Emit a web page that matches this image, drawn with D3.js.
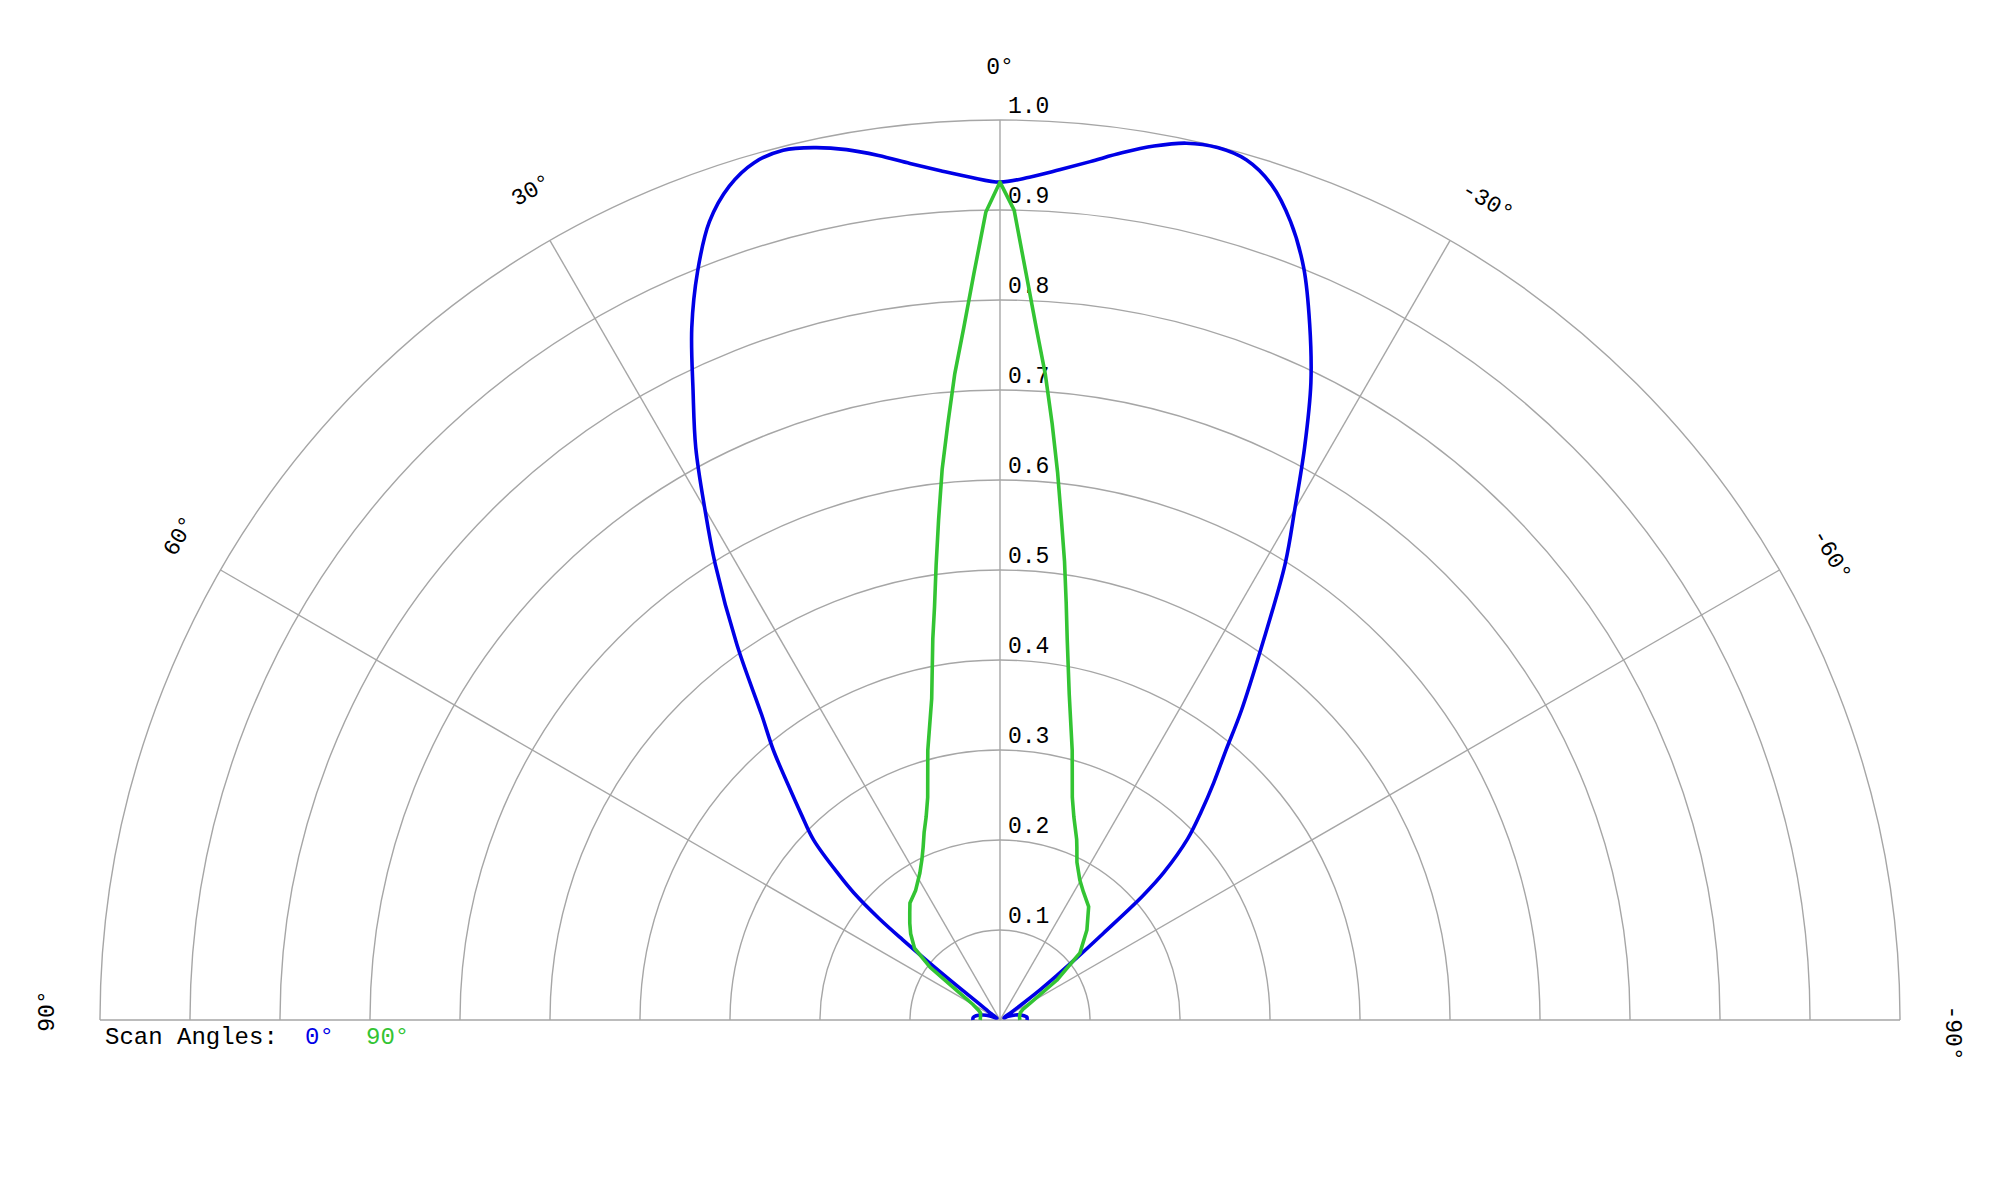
<!DOCTYPE html>
<html>
<head>
<meta charset="utf-8">
<script src="https://cdn.jsdelivr.net/npm/d3@7"></script>
<style>
  html, body { margin: 0; padding: 0; background: #fff; }
  svg { display: block; }
  text { font-family: "Liberation Mono", "DejaVu Sans Mono", monospace; }
</style>
</head>
<body>
<svg id="chart" width="2000" height="1200"></svg>
<script>
// ---- data (angle in degrees, positive = left side; value = relative intensity) ----
const blueAngles = [-90, -84, -78, -72, -66, -60, -56, -54, -53, -52, -51, -50, -49, -48, -46, -44, -42, -40, -38, -35, -32, -30, -28, -26, -24, -22, -20, -18, -16, -14, -12, -10, -8, -6, -4, -2,
  0, 2, 4, 6, 8, 10, 12, 14, 16, 18, 20, 22, 24, 26, 28, 30, 32, 35, 38, 40, 42, 44, 46, 48, 49, 50, 50.5, 51, 51.5, 52, 54, 57, 62, 68, 74, 80, 85, 90];
const blueValues = [0.030, 0.030, 0.025, 0.018, 0.010, 0.005, 0.015, 0.035, 0.057, 0.080, 0.110, 0.150, 0.210, 0.245, 0.290, 0.322, 0.355, 0.390, 0.435, 0.507, 0.598, 0.655, 0.721, 0.788, 0.846, 0.901, 0.944, 0.976, 0.994, 0.999, 0.996, 0.986, 0.973, 0.959, 0.947, 0.937,
  0.931, 0.937, 0.946, 0.957, 0.970, 0.982, 0.991, 0.996, 0.991, 0.974, 0.944, 0.897, 0.842, 0.778, 0.720, 0.656, 0.597, 0.510, 0.430, 0.392, 0.352, 0.318, 0.288, 0.240, 0.215, 0.175, 0.140, 0.100, 0.060, 0.030, 0.012, 0.004, 0.005, 0.012, 0.020, 0.027, 0.030, 0.030];

const greenAngles = [-90, -80, -70, -65, -61, -55, -50, -44, -38, -33, -29.7, -26, -24, -23, -20, -18, -15, -12, -10, -9, -8, -7, -6, -5, -4, -3, -2, -1,
  0, 1, 2, 3, 4, 5, 6, 7, 8, 9, 10, 12, 15, 18, 20, 22, 24, 26, 28.6, 33, 37.6, 40, 43, 46, 50, 53, 56, 60, 65, 70, 80, 90];
const greenValues = [0.022, 0.022, 0.024, 0.028, 0.038, 0.077, 0.116, 0.139, 0.160, 0.170, 0.179, 0.195, 0.210, 0.218, 0.240, 0.260, 0.310, 0.370, 0.430, 0.470, 0.515, 0.560, 0.612, 0.665, 0.720, 0.770, 0.830, 0.900,
  0.931, 0.898, 0.830, 0.770, 0.720, 0.665, 0.615, 0.560, 0.510, 0.465, 0.430, 0.365, 0.310, 0.260, 0.240, 0.225, 0.210, 0.198, 0.186, 0.172, 0.164, 0.156, 0.147, 0.138, 0.124, 0.097, 0.055, 0.035, 0.027, 0.023, 0.022, 0.022];

const ringValues = [0.1, 0.2, 0.3, 0.4, 0.5, 0.6, 0.7, 0.8, 0.9, 1.0];
const ringLabels = ["0.1", "0.2", "0.3", "0.4", "0.5", "0.6", "0.7", "0.8", "0.9", "1.0"];
const spokeAngles = [-90, -60, -30, 0, 30, 60, 90];
const spokeLabels = ["-90°", "-60°", "-30°", "0°", "30°", "60°", "90°"];
const legendLabel = "Scan Angles:";
const seriesNames = ["0°", "90°"];
const seriesColors = ["#0000e6", "#33c433"];

// ---- layout ----
const cx = 1000, cy = 1020, R = 900;
const svg = d3.select("#chart");
const g = svg.append("g").attr("transform", `translate(${cx},${cy})`);

const rScale = d3.scaleLinear().domain([0, 1]).range([0, R]);
const aScale = d3.scaleLinear().domain([-90, 90]).range([Math.PI / 2, -Math.PI / 2]);
const gridColor = "#a6a6a6";

// rings
const ringArc = d3.arc().startAngle(-Math.PI / 2).endAngle(Math.PI / 2);
g.selectAll("path.ring").data(ringValues).enter().append("path")
  .attr("class", "ring")
  .attr("d", d => ringArc({ innerRadius: rScale(d), outerRadius: rScale(d) }))
  .attr("fill", "none").attr("stroke", gridColor).attr("stroke-width", 1.4);

// spokes
g.selectAll("line.spoke").data(spokeAngles).enter().append("line")
  .attr("class", "spoke")
  .attr("x1", 0).attr("y1", 0)
  .attr("x2", d => rScale(1) * Math.sin(aScale(d)))
  .attr("y2", d => -rScale(1) * Math.cos(aScale(d)))
  .attr("stroke", gridColor).attr("stroke-width", 1.4);

// ring labels
g.selectAll("text.rl").data(ringValues).enter().append("text")
  .attr("class", "rl")
  .attr("x", 8).attr("y", d => -rScale(d) - 7)
  .attr("font-size", 23).attr("fill", "#000")
  .text((d, i) => ringLabels[i]);

// spoke labels
const labelR = 952;
g.selectAll("text.sl").data(spokeAngles).enter().append("text")
  .attr("class", "sl")
  .attr("transform", d => {
    const a = aScale(d);
    const x = labelR * Math.sin(a), y = -labelR * Math.cos(a);
    return `translate(${x},${y}) rotate(${-d})`;
  })
  .attr("x", d => d === 0 ? 0 : (d > 0 ? 9 : 13))
  .attr("text-anchor", "middle").attr("dominant-baseline", "central")
  .attr("font-size", 23).attr("fill", "#000")
  .text((d, i) => spokeLabels[i]);

// series
const radial = d3.lineRadial()
  .angle(d => aScale(d[0]))
  .radius(d => rScale(d[1]));

const blueData = blueAngles.map((a, i) => [a, blueValues[i]]);
const greenData = greenAngles.map((a, i) => [a, greenValues[i]]);

g.append("path")
  .attr("d", radial.curve(d3.curveCatmullRom.alpha(0.5))(blueData))
  .attr("fill", "none").attr("stroke", seriesColors[0]).attr("stroke-width", 3.6)
  .attr("stroke-linejoin", "round");

g.append("path")
  .attr("d", radial.curve(d3.curveLinear)(greenData))
  .attr("fill", "none").attr("stroke", seriesColors[1]).attr("stroke-width", 3.6)
  .attr("stroke-linejoin", "round");

// legend
const leg = svg.append("g").attr("font-size", 24);
leg.append("text").attr("x", 105).attr("y", 1044).attr("fill", "#000").text(legendLabel);
leg.append("text").attr("x", 305).attr("y", 1044).attr("fill", seriesColors[0]).text(seriesNames[0]);
leg.append("text").attr("x", 366).attr("y", 1044).attr("fill", seriesColors[1]).text(seriesNames[1]);
</script>
</body>
</html>
